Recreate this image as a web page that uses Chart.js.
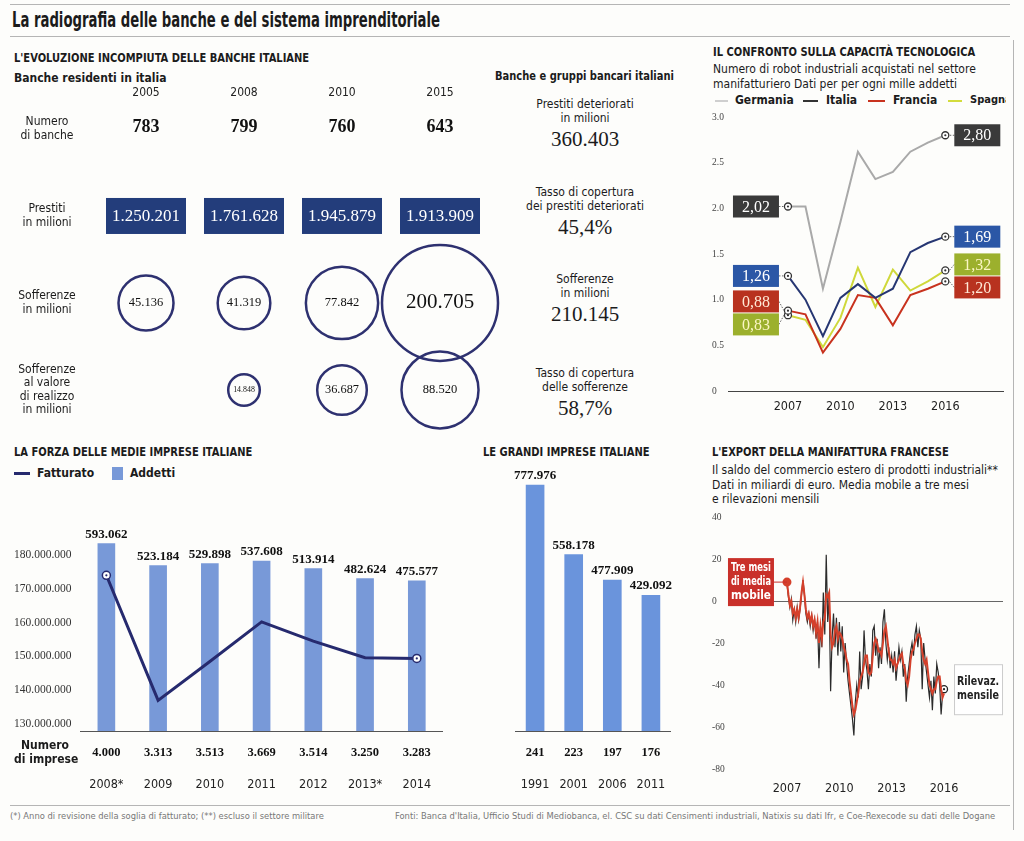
<!DOCTYPE html>
<html lang="it">
<head>
  <meta charset="UTF-8">
  <meta name="viewport" content="width=1024, initial-scale=1.0">
  <title>La radiografia delle banche e del sistema imprenditoriale</title>
  <style>
    body {
      margin: 0;
      width: 1024px;
      height: 841px;
      position: relative;
      overflow: hidden;
      background-color: #fdfdfb;
      color: #1b1b1b;
      font-family: "Liberation Sans Narrow", "DejaVu Sans Condensed", "Open Sans", sans-serif;
    }
    .t { position: absolute; white-space: nowrap; font-size: 12px; line-height: 14px; }
    .b { font-weight: bold; }
    .rule { position: absolute; background: #b5b5b5; }
    .stat { position: absolute; left: 500px; width: 170px; text-align: center; }
    .stat .lab { font-size: 12px; line-height: 14px; }
    .stat .val { font-family: "Liberation Serif", "DejaVu Serif", serif; font-size: 21px; line-height: 24px; margin-top: 2px; }
    canvas { position: absolute; }
    .key { position: absolute; }
    .foot { position: absolute; top: 810px; font-size: 9.3px; color: #777; white-space: nowrap; }
  </style>
</head>
<body>
  <div class="rule" style="left:10px;top:4px;width:1000px;height:1px"></div>
  <div class="t b" style="left:12px;top:8px;font-size:21px;line-height:24px;transform:scaleX(0.7);transform-origin:0 0">La radiografia delle banche e del sistema imprenditoriale</div>
  <div class="rule" style="left:10px;top:36px;width:1000px;height:1px"></div>
  <div class="rule" style="left:1013px;top:40px;width:1px;height:790px"></div>

  <!-- banche -->
  <div class="t b" style="left:14px;top:51px;transform:scaleX(0.92);transform-origin:0 0">L'EVOLUZIONE INCOMPIUTA DELLE BANCHE ITALIANE</div>
  <div class="t b" style="left:14px;top:71px">Banche residenti in italia</div>
  <div class="t b" style="left:495px;top:69px;transform:scaleX(0.92);transform-origin:0 0">Banche e gruppi bancari italiani</div>
  <canvas id="bankChart" width="500" height="350" style="left:0;top:84px"></canvas>

  <!-- robot -->
  <div class="t b" style="left:713px;top:45px;transform:scaleX(0.92);transform-origin:0 0">IL CONFRONTO SULLA CAPACITÀ TECNOLOGICA</div>
  <div class="t" style="left:713px;top:62px;line-height:15px">Numero di robot industriali acquistati nel settore<br>manifatturiero Dati per per ogni mille addetti</div>
  <div class="key" style="left:715px;top:100px;width:13px;height:2px;background:#cfcfcf"></div>
  <div class="t b" style="left:735px;top:93px">Germania</div>
  <div class="key" style="left:803px;top:100px;width:15px;height:2px;background:#333"></div>
  <div class="t b" style="left:826px;top:93px">Italia</div>
  <div class="key" style="left:868px;top:100px;width:17px;height:2px;background:#c8321e"></div>
  <div class="t b" style="left:893px;top:93px">Francia</div>
  <div class="key" style="left:948px;top:100px;width:14px;height:2px;background:#d3dc3c"></div>
  <div class="t b" style="left:970px;top:93px;width:36px;overflow:hidden;font-size:11px">Spagna</div>
  <canvas id="robotChart" width="305" height="310" style="left:705px;top:108px"></canvas>

  <!-- medie imprese -->
  <div class="t b" style="left:14px;top:445px;transform:scaleX(0.92);transform-origin:0 0">LA FORZA DELLE MEDIE IMPRESE ITALIANE</div>
  <div class="key" style="left:14px;top:472px;width:16px;height:3px;background:#262a6e"></div>
  <div class="t b" style="left:37px;top:466px">Fatturato</div>
  <div class="key" style="left:112px;top:467px;width:11px;height:13px;background:#7899d8"></div>
  <div class="t b" style="left:130px;top:466px">Addetti</div>
  <canvas id="medieChart" width="478" height="300" style="left:0;top:500px"></canvas>
  <div class="t b" style="left:14px;top:738px;width:62px;text-align:center">Numero<br>di imprese</div>

  <!-- grandi imprese -->
  <div class="t b" style="left:483px;top:445px;transform:scaleX(0.92);transform-origin:0 0">LE GRANDI IMPRESE ITALIANE</div>
  <canvas id="grandiChart" width="230" height="345" style="left:478px;top:455px"></canvas>

  <!-- export francese -->
  <div class="t b" style="left:712px;top:445px;transform:scaleX(0.92);transform-origin:0 0">L'EXPORT DELLA MANIFATTURA FRANCESE</div>
  <div class="t" style="left:712px;top:463px;line-height:14.5px">Il saldo del commercio estero di prodotti industriali**<br>Dati in miliardi di euro. Media mobile a tre mesi<br>e rilevazioni mensili</div>
  <canvas id="exportChart" width="305" height="295" style="left:705px;top:505px"></canvas>

  <div class="rule" style="left:10px;top:805px;width:1000px;height:1px"></div>
  <div class="foot" style="left:10px">(*) Anno di revisione della soglia di fatturato; (**) escluso il settore militare</div>
  <div class="foot" style="left:395px">Fonti: Banca d'Italia, Ufficio Studi di Mediobanca, el. CSC su dati Censimenti industriali, Natixis su dati Ifr, e Coe-Rexecode su dati delle Dogane</div>

  <script src="https://cdn.jsdelivr.net/npm/chart.js"></script>
  <script>
    // --- dati banche
    const bankYears = ['2005', '2008', '2010', '2015'];
    const bankRows = [['Numero', 'di banche'], ['Prestiti', 'in milioni'], ['Sofferenze', 'in milioni'], ['Sofferenze', 'al valore', 'di realizzo', 'in milioni']];
    const numeroBanche = [783, 799, 760, 643];
    const prestiti = [1250201, 1761628, 1945879, 1913909];
    const sofferenze = [45136, 41319, 77842, 200705];
    const sofferenzeRealizzo = [null, 14848, 36687, 88520];

    const statLabels = [['Prestiti deteriorati', 'in milioni'], ['Tasso di copertura', 'dei prestiti deteriorati'], ['Sofferenze', 'in milioni'], ['Tasso di copertura', 'delle sofferenze']];
    const statValues = ['360.403', '45,4%', '210.145', '58,7%'];

    // --- robot per mille addetti
    const robotYears = [2007, 2008, 2009, 2010, 2011, 2012, 2013, 2014, 2015, 2016];
    const robotGermania = [2.02, 2.02, 1.12, 1.85, 2.62, 2.32, 2.40, 2.62, 2.72, 2.80];
    const robotItalia = [1.26, 1.00, 0.60, 1.02, 1.17, 1.02, 1.12, 1.52, 1.62, 1.69];
    const robotFrancia = [0.88, 0.84, 0.42, 0.68, 1.05, 1.02, 0.72, 1.05, 1.12, 1.20];
    const robotSpagna = [0.83, 0.78, 0.48, 0.80, 1.35, 0.92, 1.33, 1.10, 1.20, 1.32];
    const robotTicks = [0, 0.5, 1, 1.5, 2, 2.5, 3];
    const yearTicks = [2007, 2010, 2013, 2016];

    // --- medie imprese
    const medieYears = ['2008*', '2009', '2010', '2011', '2012', '2013*', '2014'];
    const medieAddetti = [593062, 523184, 529898, 537608, 513914, 482624, 475577];
    const medieFatturato = [174000000, 137000000, 148500000, 160200000, 154500000, 149600000, 149400000];
    const medieImprese = [4000, 3313, 3513, 3669, 3514, 3250, 3283];
    const fatturatoTicks = [130000000, 140000000, 150000000, 160000000, 170000000, 180000000];

    // --- grandi imprese
    const grandiYears = ['1991', '2001', '2006', '2011'];
    const grandiAddetti = [777976, 558178, 477909, 429092];
    const grandiImprese = [241, 223, 197, 176];

    // --- export manifattura francese, mensile da gennaio 2007
    const exportStart = 2007;
    const exportMensile = [
      8, 2, -3, 1, -9, -4, -10, -3, -9, -4, 3, 10,
      3, -6, -10, -6, -12, -7, -14, -9, -18, -10, -32, -12,
      -22, 4, -16, 22, -10, 2, -43, -18, -6, -22, -8, -26,
      -10, -24, -12, -34, -20, -30, -38, -44, -50, -56, -64, -48,
      -40, -46, -24, -42, -36, -14, -28, -33, -42, -30, -36, -14,
      -12, -26, -18, -32, -22, -30, -10, -4, -20, -28, -22, -32,
      -26, -34, -24, -38, -30, -22, -28, -24, -36, -30, -48, -36,
      -30, -24, -20, -26, -16, -12, -22, -14, -18, -42, -20, -28,
      -34, -40, -46, -38, -52, -36, -44, -30, -34, -40, -54, -44,
      -42
    ];
    const exportMedia = [
      9, 3, -2, 0, -6, -4, -8, -4, -8, -3, 4, 9,
      3, -4, -8, -6, -10, -7, -12, -9, -15, -10, -20, -12,
      -18, -10, -8, 3, 2, 4, -16, -22, -20, -14, -12, -18,
      -15, -16, -18, -22, -24, -28, -30, -38, -44, -50, -54, -52,
      -48, -44, -38, -36, -34, -30, -26, -26, -34, -35, -34, -26,
      -20, -18, -20, -24, -24, -26, -20, -14, -12, -18, -24, -28,
      -28, -30, -28, -32, -30, -28, -26, -25, -30, -32, -38, -40,
      -36, -28, -24, -23, -20, -18, -16, -16, -18, -24, -28, -30,
      -28, -34, -40, -42, -44, -42, -42, -38, -36, -36, -42, -46,
      -44
    ];
    const exportTicks = [-80, -60, -40, -20, 0, 20, 40];

    const SANS = '"Liberation Sans Narrow", "DejaVu Sans Condensed", "Open Sans", sans-serif';
    const SERIF = '"Liberation Serif", "DejaVu Serif", serif';
    const fmt = v => String(v).replace(/\B(?=(\d{3})+(?!\d))/g, '.');

    Chart.defaults.font.family = SANS;
    Chart.defaults.font.size = 12;
    Chart.defaults.color = '#222';
    Chart.defaults.animation = false;
    Chart.defaults.plugins.legend.display = false;
    Chart.defaults.plugins.tooltip.enabled = false;

    // colonna centrale di cifre
    const statTops = [97, 185, 272, 366];
    statLabels.forEach((lab, i) => {
      const d = document.createElement('div');
      d.className = 'stat';
      d.style.top = statTops[i] + 'px';
      d.innerHTML = lab.map(l => `<div class="lab">${l}</div>`).join('') + `<div class="val">${statValues[i]}</div>`;
      document.body.appendChild(d);
    });

    // cerchietto con punto centrale sui marker
    const dotMarkers = {
      id: 'dotMarkers',
      afterDatasetsDraw(chart) {
        const ctx = chart.ctx;
        chart.data.datasets.forEach((ds, i) => {
          chart.getDatasetMeta(i).data.forEach(el => {
            if (el.options && el.options.radius > 0 && ds.type !== 'bar' && el.options.backgroundColor === '#fff') {
              ctx.beginPath();
              ctx.arc(el.x, el.y, 1.1, 0, Math.PI * 2);
              ctx.fillStyle = el.options.borderColor;
              ctx.fill();
            }
          });
        });
      }
    };
    const endsOnly = r => ctx => (ctx.dataIndex === 0 || ctx.dataIndex === ctx.dataset.data.length - 1) ? r : 0;

    // ---------- banche ----------
    const R_MAX = 58;
    const maxSoff = Math.max(...sofferenze);
    const bubble = (v, i, row) => ({ x: bankYears[i], y: row, r: R_MAX * Math.sqrt(v / maxSoff), v });

    const bankTable = {
      id: 'bankTable',
      afterDatasetsDraw(chart) {
        const { ctx, scales: { x, y } } = chart;
        ctx.save();
        ctx.textAlign = 'center';
        ctx.textBaseline = 'middle';
        // etichette di riga
        ctx.fillStyle = '#1b1b1b';
        ctx.font = '12px ' + SANS;
        bankRows.forEach((lines, r) => {
          const cy = y.getPixelForValue(r);
          lines.forEach((l, k) => ctx.fillText(l, 47, cy + (k - (lines.length - 1) / 2) * 13.5));
        });
        numeroBanche.forEach((v, i) => {
          ctx.font = 'bold 18px ' + SERIF;
          ctx.fillStyle = '#111';
          ctx.fillText(fmt(v), x.getPixelForValue(i), y.getPixelForValue(0) - 2);
        });
        prestiti.forEach((v, i) => {
          const cx = x.getPixelForValue(i), cy = y.getPixelForValue(1);
          ctx.fillStyle = '#233d7b';
          ctx.fillRect(cx - 40, cy - 18, 80, 36);
          ctx.fillStyle = '#fff';
          ctx.font = '17px ' + SERIF;
          ctx.fillText(fmt(v), cx, cy + 1);
        });
        chart.data.datasets.forEach((ds, di) => {
          chart.getDatasetMeta(di).data.forEach((el, j) => {
            const raw = ds.data[j];
            const size = raw.r > 50 ? 21 : Math.min(12.5, raw.r * 0.5);
            ctx.font = size + 'px ' + SERIF;
            ctx.fillStyle = '#111';
            ctx.fillText(fmt(raw.v), el.x, el.y);
          });
        });
        ctx.restore();
      }
    };

    new Chart(document.getElementById('bankChart'), {
      type: 'bubble',
      data: {
        labels: bankYears,
        datasets: [
          { label: 'Sofferenze', data: sofferenze.map((v, i) => bubble(v, i, 2)) },
          { label: 'Sofferenze al valore di realizzo', data: sofferenzeRealizzo.map((v, i) => v === null ? null : bubble(v, i, 3)).filter(Boolean) }
        ]
      },
      options: {
        responsive: false,
        layout: { autoPadding: false, padding: { right: 11, bottom: 4 } },
        elements: { point: { backgroundColor: 'rgba(0,0,0,0)', borderColor: '#2e3170', borderWidth: 2.5, hoverRadius: 0 } },
        datasets: { bubble: { clip: false } },
        scales: {
          x: {
            type: 'category', position: 'top', offset: true,
            grid: { display: false, drawTicks: false }, border: { display: false },
            ticks: { padding: 4, font: { size: 12 }, color: '#222' },
            afterFit: s => { s.height = 20; }
          },
          y: {
            type: 'linear', reverse: true, min: -0.287, max: 3.46,
            grid: { display: false, drawTicks: false }, border: { display: false },
            ticks: { display: false },
            afterFit: s => { s.width = 97; }
          }
        }
      },
      plugins: [bankTable]
    });

    // ---------- robot ----------
    const robotBoxes = {
      id: 'robotBoxes',
      afterDatasetsDraw(chart) {
        const ctx = chart.ctx;
        const w = 46, h = 22, gap = 23;
        ctx.save();
        ['first', 'last'].forEach(side => {
          const items = chart.data.datasets.map((ds, i) => {
            const idx = side === 'first' ? 0 : ds.data.length - 1;
            const pt = chart.getDatasetMeta(i).data[idx];
            return { ds, v: ds.data[idx].y, px: pt.x, py: pt.y, y: pt.y };
          }).sort((a, b) => a.y - b.y);
          for (let k = 0; k < 60; k++) {
            for (let j = 1; j < items.length; j++) {
              const d = items[j].y - items[j - 1].y;
              if (d < gap) { const s = (gap - d) / 2; items[j - 1].y -= s; items[j].y += s; }
            }
          }
          items.forEach(it => {
            const bx = side === 'first' ? it.px - 9 - w : it.px + 9;
            ctx.strokeStyle = '#666';
            ctx.lineWidth = 1;
            ctx.setLineDash([1.5, 1.5]);
            ctx.beginPath();
            ctx.moveTo(side === 'first' ? bx + w : bx, it.y);
            ctx.lineTo(side === 'first' ? it.px - 4 : it.px + 4, it.py);
            ctx.stroke();
            ctx.setLineDash([]);
            ctx.fillStyle = it.ds.boxColor;
            ctx.fillRect(bx, it.y - h / 2, w, h);
            ctx.fillStyle = it.ds.boxText;
            ctx.font = '16px ' + SERIF;
            ctx.textAlign = 'center';
            ctx.textBaseline = 'middle';
            ctx.fillText(it.v.toFixed(2).replace('.', ','), bx + w / 2, it.y + 1);
          });
        });
        ctx.restore();
      }
    };

    const robotLine = (label, data, color, boxColor, boxText, order) => ({
      label, order, boxColor, boxText,
      data: data.map((v, i) => ({ x: robotYears[i], y: v })),
      borderColor: color, borderWidth: 2, tension: 0,
      pointRadius: endsOnly(3.5), pointBackgroundColor: '#fff',
      pointBorderColor: '#333', pointBorderWidth: 1.3
    });

    new Chart(document.getElementById('robotChart'), {
      type: 'line',
      data: {
        datasets: [
          robotLine('Germania', robotGermania, '#a9a9a9', '#3a3a3a', '#fff', 3),
          robotLine('Italia', robotItalia, '#263672', '#2b57a6', '#fff', 0),
          robotLine('Francia', robotFrancia, '#c8321e', '#b8321f', '#ffe9d6', 1),
          robotLine('Spagna', robotSpagna, '#cfd83a', '#9cb02d', '#fbf6c4', 2)
        ]
      },
      options: {
        responsive: false,
        layout: { padding: { left: 7, right: 7, top: 9 } },
        scales: {
          x: {
            type: 'linear', min: 2003.57, max: 2019.3,
            afterBuildTicks: s => { s.ticks = yearTicks.map(v => ({ value: v })); },
            grid: { display: false, drawTicks: false },
            border: { display: true, color: '#444', width: 1 },
            ticks: { padding: 8, font: { size: 12.5 }, color: '#222', callback: v => String(v) },
            afterFit: s => { s.height = 27; }
          },
          y: {
            min: 0, max: 3,
            afterBuildTicks: s => { s.ticks = robotTicks.map(v => ({ value: v })); },
            grid: { display: false, drawTicks: false }, border: { display: false },
            ticks: { crossAlign: 'far', font: { family: SERIF, size: 9.5 }, color: '#444', callback: v => v === 0 ? '0' : v.toFixed(1) },
            afterFit: s => { s.width = 16; }
          }
        }
      },
      plugins: [robotBoxes, dotMarkers]
    });

    // ---------- barre con etichette ----------
    const barNotes = {
      id: 'barNotes',
      afterDatasetsDraw(chart, args, opts) {
        const ctx = chart.ctx;
        const meta = chart.getDatasetMeta(opts.barIndex);
        const ds = chart.data.datasets[opts.barIndex];
        ctx.save();
        ctx.textAlign = 'center';
        ctx.fillStyle = '#111';
        meta.data.forEach((bar, i) => {
          ctx.font = 'bold 13px ' + SERIF;
          ctx.textBaseline = 'alphabetic';
          ctx.fillText(fmt(ds.data[i]), bar.x, bar.y - 6);
          ctx.font = 'bold 12.5px ' + SERIF;
          ctx.textBaseline = 'middle';
          ctx.fillText(fmt(opts.counts[i]), bar.x, chart.chartArea.bottom + 22);
        });
        ctx.restore();
      }
    };

    const catAxis = {
      grid: { display: false, drawTicks: false },
      border: { display: true, color: '#555', width: 1 },
      ticks: { padding: 46, font: { size: 12.5 }, color: '#222' },
      afterFit: s => { s.height = 69; }
    };

    new Chart(document.getElementById('medieChart'), {
      type: 'bar',
      data: {
        labels: medieYears,
        datasets: [
          {
            type: 'line', label: 'Fatturato', data: medieFatturato, yAxisID: 'yLine', order: 0,
            borderColor: '#262a6e', borderWidth: 3, tension: 0,
            pointRadius: endsOnly(4), pointBackgroundColor: '#fff', pointBorderColor: '#262a6e', pointBorderWidth: 1.5
          },
          {
            type: 'bar', label: 'Addetti', data: medieAddetti, yAxisID: 'yBar', order: 1,
            backgroundColor: '#7899d8', barThickness: 17
          }
        ]
      },
      options: {
        responsive: false,
        layout: { padding: { left: 14, right: 12.5, top: 31 } },
        scales: {
          x: catAxis,
          yLine: {
            position: 'left', min: 127930000, max: 187100000,
            afterBuildTicks: s => { s.ticks = fatturatoTicks.map(v => ({ value: v })); },
            grid: { display: false, drawTicks: false }, border: { display: false },
            ticks: { crossAlign: 'far', font: { family: SERIF, size: 11.5 }, color: '#333', callback: v => fmt(v) },
            afterFit: s => { s.width = 66.5; }
          },
          yBar: { display: false, min: 0, max: 633000 }
        },
        plugins: { barNotes: { barIndex: 1, counts: medieImprese } }
      },
      plugins: [barNotes, dotMarkers]
    });

    new Chart(document.getElementById('grandiChart'), {
      type: 'bar',
      data: {
        labels: grandiYears,
        datasets: [{ label: 'Addetti', data: grandiAddetti, backgroundColor: '#6a94dc', barThickness: 18 }]
      },
      options: {
        responsive: false,
        layout: { padding: { left: 3, right: 9, top: 15 } },
        scales: {
          x: catAxis,
          y: { display: false, min: 0, max: 826000 }
        },
        plugins: { barNotes: { barIndex: 0, counts: grandiImprese } }
      },
      plugins: [barNotes]
    });

    // ---------- export francese ----------
    const exportNotes = {
      id: 'exportNotes',
      afterDatasetsDraw(chart) {
        const ctx = chart.ctx;
        const first = chart.getDatasetMeta(0).data[0];
        const lastMeta = chart.getDatasetMeta(1).data;
        const last = lastMeta[lastMeta.length - 1];
        ctx.save();
        // media mobile
        const bw = 46, bh = 48, bx = first.x - 13 - bw, by = first.y - 24;
        ctx.strokeStyle = '#c9302a';
        ctx.lineWidth = 1;
        ctx.beginPath(); ctx.moveTo(bx + bw, first.y); ctx.lineTo(first.x, first.y); ctx.stroke();
        ctx.fillStyle = '#c9302a';
        ctx.fillRect(bx, by, bw, bh);
        ctx.fillStyle = '#fff';
        ctx.font = 'bold 12px ' + SANS;
        ctx.textAlign = 'left';
        ctx.textBaseline = 'middle';
        ['Tre mesi', 'di media', 'mobile'].forEach((t, k) => ctx.fillText(t, bx + 3, by + 10 + k * 14, bw - 6));
        // rilevazione mensile
        const wx = last.x + 10, ww = 48, wh = 50, wy = last.y - 25;
        ctx.fillStyle = '#fff';
        ctx.fillRect(wx, wy, ww, wh);
        ctx.strokeStyle = '#ccc';
        ctx.strokeRect(wx + 0.5, wy + 0.5, ww, wh);
        ctx.fillStyle = '#222';
        ctx.textAlign = 'center';
        ['Rilevaz.', 'mensile'].forEach((t, k) => ctx.fillText(t, wx + ww / 2, last.y - 7 + k * 14, ww - 6));
        ctx.restore();
      }
    };

    new Chart(document.getElementById('exportChart'), {
      type: 'line',
      data: {
        datasets: [
          {
            label: 'Tre mesi di media mobile', order: 0,
            data: exportMedia.map((v, i) => ({ x: exportStart + i / 12, y: v })),
            borderColor: '#d5402b', borderWidth: 2, tension: 0,
            pointRadius: ctx => ctx.dataIndex === 0 ? 3.5 : 0,
            pointBackgroundColor: '#d5402b', pointBorderColor: '#d5402b'
          },
          {
            label: 'Rilevazione mensile', order: 1,
            data: exportMensile.map((v, i) => ({ x: exportStart + i / 12, y: v })),
            borderColor: '#2b2b2b', borderWidth: 1.2, tension: 0,
            pointRadius: ctx => ctx.dataIndex === ctx.dataset.data.length - 1 ? 3.5 : 0,
            pointBackgroundColor: '#fff', pointBorderColor: '#222', pointBorderWidth: 1.3
          }
        ]
      },
      options: {
        responsive: false,
        layout: { padding: { left: 7, right: 7, top: 12 } },
        scales: {
          x: {
            type: 'linear', min: 2003.62, max: 2019.38,
            afterBuildTicks: s => { s.ticks = yearTicks.map(v => ({ value: v })); },
            grid: { display: false, drawTicks: false }, border: { display: false },
            ticks: { padding: 12, font: { size: 12.5 }, color: '#222', callback: v => String(v) },
            afterFit: s => { s.height = 31; }
          },
          y: {
            min: -80, max: 40,
            afterBuildTicks: s => { s.ticks = exportTicks.map(v => ({ value: v })); },
            grid: { drawTicks: false, color: c => c.tick && c.tick.value === 0 ? '#666' : 'rgba(0,0,0,0)' },
            border: { display: false },
            ticks: { crossAlign: 'far', font: { family: SERIF, size: 9.5 }, color: '#444' },
            afterFit: s => { s.width = 16; }
          }
        }
      },
      plugins: [exportNotes, dotMarkers]
    });
  </script>
</body>
</html>
